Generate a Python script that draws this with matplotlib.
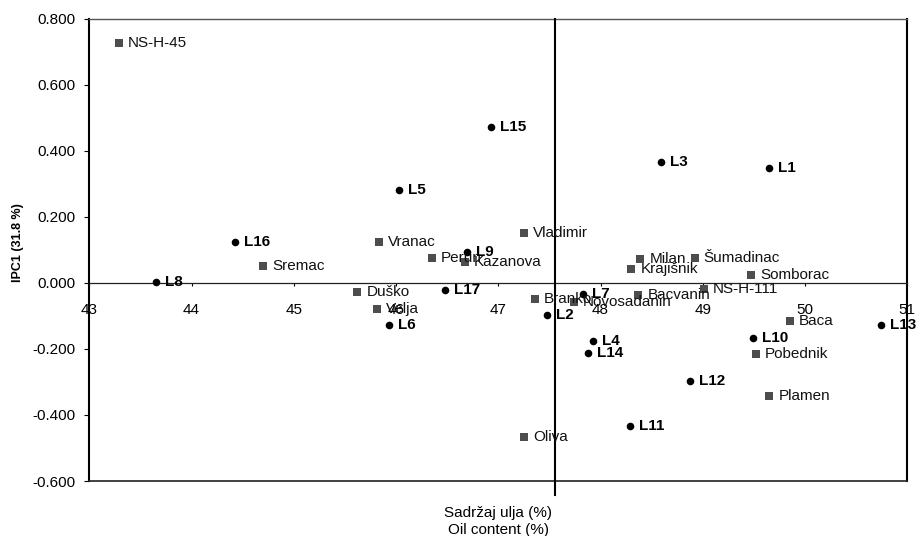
import matplotlib
matplotlib.use("Agg")
import matplotlib.pyplot as plt

plt.rcParams['font.family'] = ['Liberation Sans', 'DejaVu Sans']

# Cultivars (squares)
cult_names = ["NS-H-45", "Sremac", "Vranac", "Perun", "Kazanova", "Vladimir",
              "Duško", "Velja", "Branko", "Novosadanin", "Bacvanin", "Milan",
              "Krajišnik", "Šumadinac", "NS-H-111", "Somborac", "Baca",
              "Pobednik", "Plamen", "Oliva"]
cult_x = [43.29, 44.70, 45.83, 46.35, 46.67, 47.25, 45.62, 45.81, 47.36, 47.74,
          48.37, 48.39, 48.30, 48.92, 49.01, 49.47, 49.85, 49.52, 49.65, 47.25]
cult_y = [0.726, 0.052, 0.123, 0.075, 0.062, 0.151, -0.029, -0.079, -0.049, -0.057,
          -0.036, 0.072, 0.041, 0.075, -0.018, 0.024, -0.115, -0.216, -0.342, -0.468]

# Lines (circles)
line_names = ["L1", "L2", "L3", "L4", "L5", "L6", "L7", "L8", "L9", "L10",
              "L11", "L12", "L13", "L14", "L15", "L16", "L17"]
line_x = [49.65, 47.48, 48.59, 47.93, 46.03, 45.93, 47.83, 43.65, 46.69, 49.49,
          48.29, 48.87, 50.74, 47.88, 46.93, 44.42, 46.48]
line_y = [0.348, -0.098, 0.367, -0.175, 0.282, -0.128, -0.033, 0.004, 0.095, -0.166,
          -0.433, -0.297, -0.127, -0.213, 0.473, 0.125, -0.022]

x_ticks = [43, 44, 45, 46, 47, 48, 49, 50, 51]
y_ticks = [-0.6, -0.4, -0.2, 0.0, 0.2, 0.4, 0.6, 0.8]
x_cross = 47.55

fig = plt.figure(figsize=(9.19, 5.36), dpi=100)
ax = fig.add_axes([0.0972, 0.1026, 0.8901, 0.8625])
ax.set_xlim(43, 51)
ax.set_ylim(-0.6, 0.8)

# axis lines
ax.spines['bottom'].set_position(('data', 0))
ax.spines['bottom'].set_linewidth(0.9)
ax.spines['bottom'].set_color('#222222')
ax.spines['left'].set_linewidth(1.5)
ax.spines['right'].set_linewidth(1.5)
ax.spines['top'].set_linewidth(1.0)
ax.spines['top'].set_color('#555555')
ax.plot([0, 1], [0, 0], transform=ax.transAxes, color='#222222', lw=1.2,
        clip_on=False, zorder=3)
ax.plot([x_cross, x_cross], [1.0, -0.03], color='black', lw=1.5, clip_on=False,
        transform=ax.get_xaxis_transform(), zorder=3)

ax.scatter(cult_x, cult_y, marker='s', s=28, color='#4d4d4d', zorder=4, linewidths=0)
ax.scatter(line_x, line_y, marker='o', s=30, color='black', zorder=4, linewidths=0)

for n, x, y in zip(cult_names, cult_x, cult_y):
    ax.annotate(n, (x, y), xytext=(6.5, 0), textcoords='offset points',
                va='center', ha='left', fontsize=11, color='#111111', zorder=5)
for n, x, y in zip(line_names, line_x, line_y):
    ax.annotate(n, (x, y), xytext=(6.5, 0), textcoords='offset points',
                va='center', ha='left', fontsize=11, fontweight='bold',
                color='black', zorder=5)

ax.set_xticks(x_ticks)
ax.set_xticklabels([str(t) for t in x_ticks])
ax.set_yticks(y_ticks)
ax.set_yticklabels([f"{t:.3f}" for t in y_ticks])
ax.tick_params(axis='x', direction='out', length=2.2, width=0.8, pad=12.0,
               labelsize=11)
ax.tick_params(axis='y', direction='out', length=3.3, width=0.8, pad=6.8,
               labelsize=11)

ax.set_xlabel("Sadržaj ulja (%)\nOil content (%)", fontsize=11, linespacing=1.2)
ax.xaxis.set_label_coords(0.5, -0.055, transform=ax.transAxes)
ax.xaxis.label.set_va('top')
ax.set_ylabel("IPC1 (31.8 %)", fontsize=9, fontweight='bold')
ax.yaxis.set_label_coords(-0.08, 0.515)

fig.savefig("out.png", dpi=100)
